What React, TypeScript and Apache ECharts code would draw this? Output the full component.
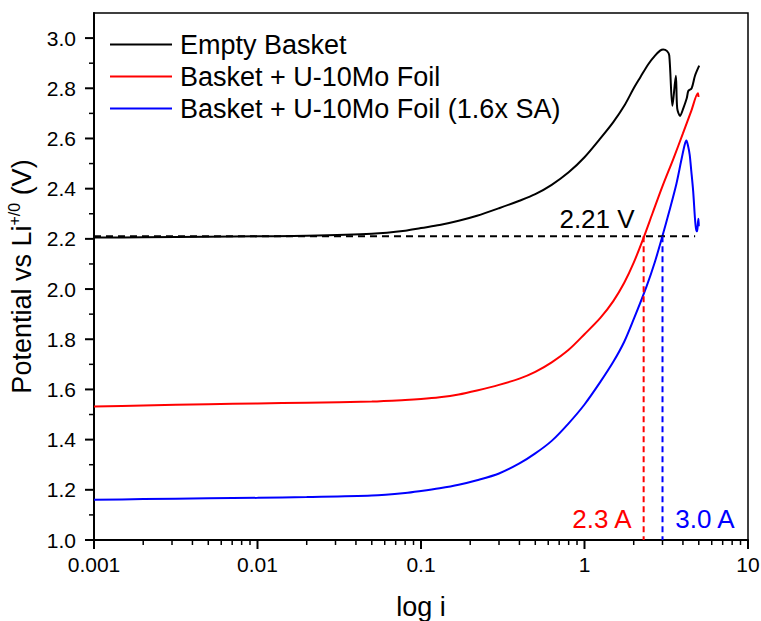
import React, { useEffect, useRef } from 'react';
import * as echarts from 'echarts';

// Current (A) and potential (V vs Li+/0)
const emptyI = [0.001, 0.002, 0.005, 0.01, 0.02, 0.05, 0.08, 0.1, 0.13, 0.17, 0.22, 0.3, 0.4, 0.5, 0.63, 0.8, 1.0, 1.25, 1.5, 1.75, 2.0, 2.2, 2.45, 2.7, 2.9, 3.03, 3.2, 3.3, 3.45, 3.62, 3.69, 3.84, 4.02, 4.22, 4.32, 4.52, 4.74, 5.03];
const emptyV = [2.205, 2.206, 2.208, 2.21, 2.212, 2.22, 2.232, 2.243, 2.255, 2.272, 2.292, 2.322, 2.352, 2.378, 2.415, 2.465, 2.525, 2.6, 2.665, 2.73, 2.8, 2.845, 2.895, 2.93, 2.95, 2.955, 2.948, 2.93, 2.73, 2.85, 2.72, 2.69, 2.72, 2.76, 2.79, 2.80, 2.85, 2.89];

const foilI = [0.001, 0.002, 0.005, 0.01, 0.02, 0.05, 0.08, 0.1, 0.13, 0.17, 0.22, 0.3, 0.4, 0.5, 0.63, 0.8, 1.0, 1.25, 1.5, 1.75, 2.0, 2.3, 2.6, 3.0, 3.5, 4.0, 4.5, 4.94, 4.98];
const foilV = [1.532, 1.536, 1.541, 1.544, 1.547, 1.552, 1.558, 1.562, 1.569, 1.58, 1.596, 1.618, 1.643, 1.67, 1.708, 1.758, 1.82, 1.885, 1.952, 2.025, 2.105, 2.205, 2.3, 2.41, 2.52, 2.62, 2.71, 2.78, 2.765];

const foilSaI = [0.001, 0.002, 0.005, 0.01, 0.02, 0.05, 0.08, 0.1, 0.13, 0.17, 0.22, 0.3, 0.4, 0.5, 0.63, 0.8, 1.0, 1.25, 1.5, 1.75, 2.0, 2.4, 2.7, 3.0, 3.3, 3.65, 3.9, 4.1, 4.2, 4.3, 4.4, 4.5, 4.62, 4.74, 4.81, 4.88, 4.95, 4.98, 5.0];
const foilSaV = [1.16, 1.163, 1.166, 1.168, 1.171, 1.177, 1.187, 1.195, 1.206, 1.22, 1.238, 1.265, 1.305, 1.345, 1.395, 1.465, 1.54, 1.63, 1.71, 1.79, 1.88, 2.012, 2.11, 2.212, 2.31, 2.42, 2.51, 2.575, 2.592, 2.57, 2.535, 2.47, 2.39, 2.28, 2.24, 2.23, 2.27, 2.28, 2.25];

const seriesNames = ['Empty Basket', 'Basket + U-10Mo Foil', 'Basket + U-10Mo Foil (1.6x SA)'];
const seriesColors = ['#000000', '#ff0000', '#0000ff'];

const refPotential = 2.21;
const refLineI = [0.001, 4.75];
const redCrossI = 2.3;
const blueCrossI = 3.0;
const yMin = 1.0;
const yMax = 3.1;
const xMin = 0.001;
const xMax = 10;

const yMajorTicks = [1.0, 1.2, 1.4, 1.6, 1.8, 2.0, 2.2, 2.4, 2.6, 2.8, 3.0];
const yMinorTicks = [1.1, 1.3, 1.5, 1.7, 1.9, 2.1, 2.3, 2.5, 2.7, 2.9];
const xMajorTicks = [0.001, 0.01, 0.1, 1, 10];
const xMinorTicks: number[] = [];
[0.001, 0.01, 0.1, 1].forEach((d) => {
  for (let k = 2; k <= 9; k++) xMinorTicks.push(+(d * k).toPrecision(3));
});

const FONT = '"Liberation Sans", Arial, Helvetica, sans-serif';

function zip(xs: number[], ys: number[]) {
  return xs.map((x, i) => [x, ys[i]]);
}

// custom series drawing tick marks outward from the axes through the chart's scales
function tickSeries(data: number[][], dir: 'x' | 'y', len: number, width: number) {
  return {
    type: 'custom',
    silent: true,
    clip: false,
    z: 10,
    data,
    renderItem: (_params: any, api: any) => {
      const p = api.coord([api.value(0), api.value(1)]);
      const shape = dir === 'x'
        ? { x1: p[0], y1: p[1], x2: p[0], y2: p[1] + len }
        : { x1: p[0], y1: p[1], x2: p[0] - len, y2: p[1] };
      return { type: 'line', shape, style: { stroke: '#000', lineWidth: width } };
    },
  };
}

export default function App() {
  const ref = useRef<HTMLDivElement>(null);
  useEffect(() => {
    document.body.style.margin = '0';
    const chart = echarts.init(ref.current!, undefined, { renderer: 'svg' });
    const curves = [zip(emptyI, emptyV), zip(foilI, foilV), zip(foilSaI, foilSaV)];
    chart.setOption({
      animation: false,
      textStyle: { fontFamily: FONT },
      grid: {
        left: 94, right: 13, top: 13, bottom: 81, show: true, borderColor: '#000', borderWidth: 1.5,
        containLabel: false, outerBoundsMode: 'none',
      },
      legend: {
        data: seriesNames,
        orient: 'vertical',
        left: 110,
        top: 31,
        padding: 0,
        icon: 'rect',
        itemWidth: 62,
        itemHeight: 2,
        itemGap: 5,
        textStyle: { fontSize: 27, color: '#000', fontFamily: FONT, padding: [0, 0, 0, 3] },
      },
      xAxis: {
        type: 'log', logBase: 10, min: xMin, max: xMax, position: 'bottom',
        axisLine: { show: true, lineStyle: { color: '#000', width: 2 } },
        axisTick: { show: false },
        axisLabel: { fontSize: 21, color: '#000', margin: 14, fontFamily: FONT, formatter: (v: number) => String(v) },
        splitLine: { show: false },
        name: 'log i', nameLocation: 'middle', nameGap: 53,
        nameTextStyle: { fontSize: 27, color: '#000', fontFamily: FONT },
      },
      yAxis: {
        type: 'value', min: yMin, max: yMax, position: 'left',
        axisLine: { show: true, lineStyle: { color: '#000', width: 2 } },
        axisTick: { show: false },
        axisLabel: { fontSize: 21, color: '#000', margin: 18, fontFamily: FONT, customValues: yMajorTicks, formatter: (v: number) => v.toFixed(1) },
        splitLine: { show: false },
        name: '{a|Potential vs Li}{s|+/0}{a| (V)}', nameLocation: 'middle', nameGap: 48,
        nameTextStyle: {
          color: '#000', fontFamily: FONT, fontSize: 27,
          rich: {
            a: { fontSize: 27, fontFamily: FONT, color: '#000', lineHeight: 32 },
            s: { fontSize: 16, fontFamily: FONT, color: '#000', verticalAlign: 'top', lineHeight: 32 },
          },
        },
      },
      series: [
        ...curves.map((d, i) => ({
          name: seriesNames[i], type: 'line', data: d,
          symbol: 'none', showSymbol: false, smooth: 0.3,
          itemStyle: { color: seriesColors[i] },
          lineStyle: { color: seriesColors[i], width: 2 },
          z: 3,
        })),
        {
          name: 'ref', type: 'line', data: [[refLineI[0], refPotential], [refLineI[1], refPotential]],
          symbol: 'none', lineStyle: { color: '#000', width: 2, type: [7, 5] }, z: 4, silent: true,
        },
        {
          name: 'redCross', type: 'line', data: [[redCrossI, refPotential], [redCrossI, yMin]],
          symbol: 'none', lineStyle: { color: '#ff0000', width: 2, type: [6, 4] }, z: 4, silent: true,
        },
        {
          name: 'blueCross', type: 'line', data: [[blueCrossI, refPotential], [blueCrossI, yMin]],
          symbol: 'none', lineStyle: { color: '#0000ff', width: 2, type: [6, 4] }, z: 4, silent: true,
        },
        tickSeries(xMajorTicks.map((v) => [v, yMin]), 'x', 9, 2),
        tickSeries(xMinorTicks.map((v) => [v, yMin]), 'x', 5, 1.5),
        tickSeries(yMajorTicks.map((v) => [xMin, v]), 'y', 9, 2),
        tickSeries(yMinorTicks.map((v) => [xMin, v]), 'y', 5, 1.5),
      ],
      graphic: [
        { type: 'text', x: 597, y: 219, style: { text: '2.21 V', fill: '#000', fontSize: 26, fontFamily: FONT, align: 'center', verticalAlign: 'middle' } },
        { type: 'text', x: 602, y: 519, style: { text: '2.3 A', fill: '#ff0000', fontSize: 26, fontFamily: FONT, align: 'center', verticalAlign: 'middle' } },
        { type: 'text', x: 705, y: 519, style: { text: '3.0 A', fill: '#0000ff', fontSize: 26, fontFamily: FONT, align: 'center', verticalAlign: 'middle' } },
      ],
    });
    return () => chart.dispose();
  }, []);
  return <div ref={ref} style={{ width: 761, height: 621 }} />;
}
